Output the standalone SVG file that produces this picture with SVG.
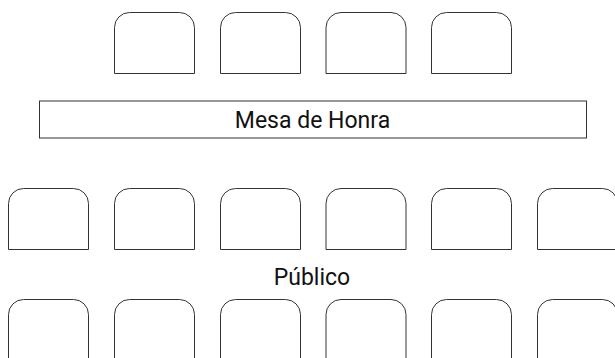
<svg xmlns="http://www.w3.org/2000/svg" width="615" height="358" viewBox="0 0 615 358">
<defs>
<style>
.chair{fill:#fff;stroke:#333;stroke-width:1}
.table{fill:#fff;stroke:#333;stroke-width:1}
.lbl{font-family:Roboto,"Liberation Sans",sans-serif;font-size:23px;fill:#111;text-anchor:middle}
</style>
<path id="ch" class="chair" d="M0,61 V15 A15,15 0 0 1 15,0 H65 A15,15 0 0 1 80,15 V61 Z"/>
</defs>
<rect width="615" height="358" fill="#fff"/>
<g id="row1">
<use id="c1_1" href="#ch" x="114.5" y="12.5"/>
<use id="c1_2" href="#ch" x="220.5" y="12.5"/>
<use id="c1_3" href="#ch" x="326" y="12.5"/>
<use id="c1_4" href="#ch" x="431.5" y="12.5"/>
</g>
<g id="mesa">
<rect class="table" x="39.5" y="101" width="547" height="37"/>
<text class="lbl" x="312.5" y="128">Mesa de Honra</text>
</g>
<g id="row2">
<use id="c2_1" href="#ch" x="8.5" y="188.5"/>
<use id="c2_2" href="#ch" x="114.5" y="188.5"/>
<use id="c2_3" href="#ch" x="220.5" y="188.5"/>
<use id="c2_4" href="#ch" x="326" y="188.5"/>
<use id="c2_5" href="#ch" x="431.5" y="188.5"/>
<use id="c2_6" href="#ch" x="537.5" y="188.5"/>
</g>
<g id="publico">
<text class="lbl" x="312" y="285">Público</text>
</g>
<g id="row3">
<use id="c3_1" href="#ch" x="8.5" y="299.5"/>
<use id="c3_2" href="#ch" x="114.5" y="299.5"/>
<use id="c3_3" href="#ch" x="220.5" y="299.5"/>
<use id="c3_4" href="#ch" x="326" y="299.5"/>
<use id="c3_5" href="#ch" x="431.5" y="299.5"/>
<use id="c3_6" href="#ch" x="537.5" y="299.5"/>
</g>
<g id="connectors"/>
</svg>
